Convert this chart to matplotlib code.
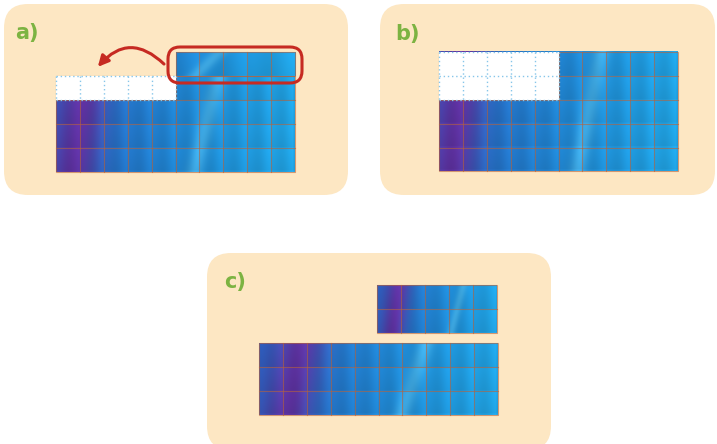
import numpy as np
import matplotlib.pyplot as plt
from matplotlib.patches import FancyBboxPatch, Rectangle, FancyArrowPatch
from matplotlib.colors import to_rgb

# panel labels and tile block layouts (columns, rows)
labels = ['a)', 'b)', 'c)']
a_cols, a_rows = 10, 4      # main block in a)
a_empty = 5                 # empty cells in the top row of a)
a_moved = 5                 # tiles lifted above the block in a)
b_cols, b_rows = 10, 5
b_empty_cols, b_empty_rows = 5, 2
c_small = (5, 2)
c_big = (10, 3)

CELL = 23.9
PEACH = '#fde7c3'
GREEN = '#7cb342'
GRID = '#b8623a'
DASH = '#86c6ea'
RED = '#c62a22'


def texture(ncols, nrows, u0=0.0, u1=1.0, purple=0.12, streak=0.68, n=160):
    # blue tile texture with a purple band and a light diagonal streak
    u = np.linspace(u0, u1, n)
    v = np.linspace(0, 1, max(2, int(n * nrows / ncols / (u1 - u0) + 2)))
    U, V = np.meshgrid(u, v)
    t = U + 0.05 * V
    left = np.array(to_rgb('#2a5cb8'))
    mid = np.array(to_rgb('#1b84d0'))
    right = np.array(to_rgb('#20a0e0'))
    w = np.clip(t, 0, 1)[..., None]
    base = left * (1 - w) ** 2 + mid * 2 * w * (1 - w) + right * w ** 2
    pu = 0.8 * np.exp(-((t - purple) / 0.1) ** 2)[..., None]
    base = base * (1 - pu) + np.array(to_rgb('#6a2497')) * pu
    st = 0.45 * np.exp(-((t + 0.05 * V - streak) / 0.035) ** 2)[..., None]
    base = base * (1 - st) + np.array(to_rgb('#62c9f2')) * st
    # soft shading inside each tile
    fx = (U * ncols) % 1
    fy = ((V * nrows) % 1)
    shade = (0.07 * (fx - fy) + 0.04 * np.cos(2 * np.pi * U * ncols))[..., None]
    return np.clip(base * (1 + shade), 0, 1)


def tiles(ax, x0, y0, ncols, nrows, u0=0.0, u1=1.0, purple=0.12, streak=0.68):
    w, h = ncols * CELL, nrows * CELL
    img = texture(ncols, nrows, u0, u1, purple, streak)
    ax.imshow(img, extent=(x0, x0 + w, y0 + h, y0), aspect='auto',
              interpolation='bilinear', zorder=2)
    for i in range(1, ncols):
        ax.plot([x0 + i * CELL] * 2, [y0, y0 + h], color=GRID, lw=0.8, alpha=0.6, zorder=3)
    for j in range(1, nrows):
        ax.plot([x0, x0 + w], [y0 + j * CELL] * 2, color=GRID, lw=0.8, alpha=0.6, zorder=3)
    ax.add_patch(Rectangle((x0, y0), w, h, fill=False, ec=GRID, lw=0.8, alpha=0.6, zorder=3))


def empty_cells(ax, x0, y0, ncols, nrows):
    w, h = ncols * CELL, nrows * CELL
    ax.add_patch(Rectangle((x0, y0), w, h, fc='white', ec='none', zorder=4))
    for i in range(ncols + 1):
        ax.plot([x0 + i * CELL] * 2, [y0, y0 + h], color=DASH, lw=1.0, ls=(0, (1, 2)), zorder=5)
    for j in range(nrows + 1):
        ax.plot([x0, x0 + w], [y0 + j * CELL] * 2, color=DASH, lw=1.0, ls=(0, (1, 2)), zorder=5)


def panel(ax, x0, y0, x1, y1):
    ax.add_patch(FancyBboxPatch((x0 + 22, y0 + 22), x1 - x0 - 44, y1 - y0 - 44,
                                boxstyle='round,pad=22,rounding_size=24',
                                fc=PEACH, ec='none', zorder=1))


fig = plt.figure(figsize=(7.17, 4.44), dpi=100)
ax = fig.add_axes([0, 0, 1, 1])
ax.set_xlim(0, 717)
ax.set_ylim(444, 0)
ax.axis('off')

# a)
panel(ax, 4, 4, 348, 195)
ax_x, ax_y = 56, 76
tiles(ax, ax_x, ax_y, a_cols, a_rows)
empty_cells(ax, ax_x, ax_y, a_empty, 1)
tiles(ax, ax_x + a_empty * CELL, ax_y - CELL, a_moved, 1, u0=0.5, u1=1.0)
ax.add_patch(FancyBboxPatch((171, 50), 128, 30, boxstyle='round,pad=3,rounding_size=12',
                            fill=False, ec=RED, lw=2.2, zorder=6))
ax.add_patch(FancyArrowPatch((166, 66), (96, 69), connectionstyle='arc3,rad=0.55',
                             arrowstyle='-|>', mutation_scale=16, color=RED, lw=2.2, zorder=6))
ax.text(15, 33, labels[0], color=GREEN, fontsize=15, fontweight='bold', va='center', zorder=7)

# b)
panel(ax, 380, 4, 715, 195)
bx, by = 439, 52
tiles(ax, bx, by, b_cols, b_rows, purple=0.1)
empty_cells(ax, bx, by, b_empty_cols, b_empty_rows)
ax.text(395, 34, labels[1], color=GREEN, fontsize=15, fontweight='bold', va='center', zorder=7)

# c)
panel(ax, 207, 253, 551, 450)
tiles(ax, 377, 285, *c_small, purple=0.18, streak=0.72)
tiles(ax, 259, 343, *c_big, purple=0.17, streak=0.7)
ax.text(224, 282, labels[2], color=GREEN, fontsize=15, fontweight='bold', va='center', zorder=7)

fig.savefig('out.png', dpi=100, facecolor='white')
